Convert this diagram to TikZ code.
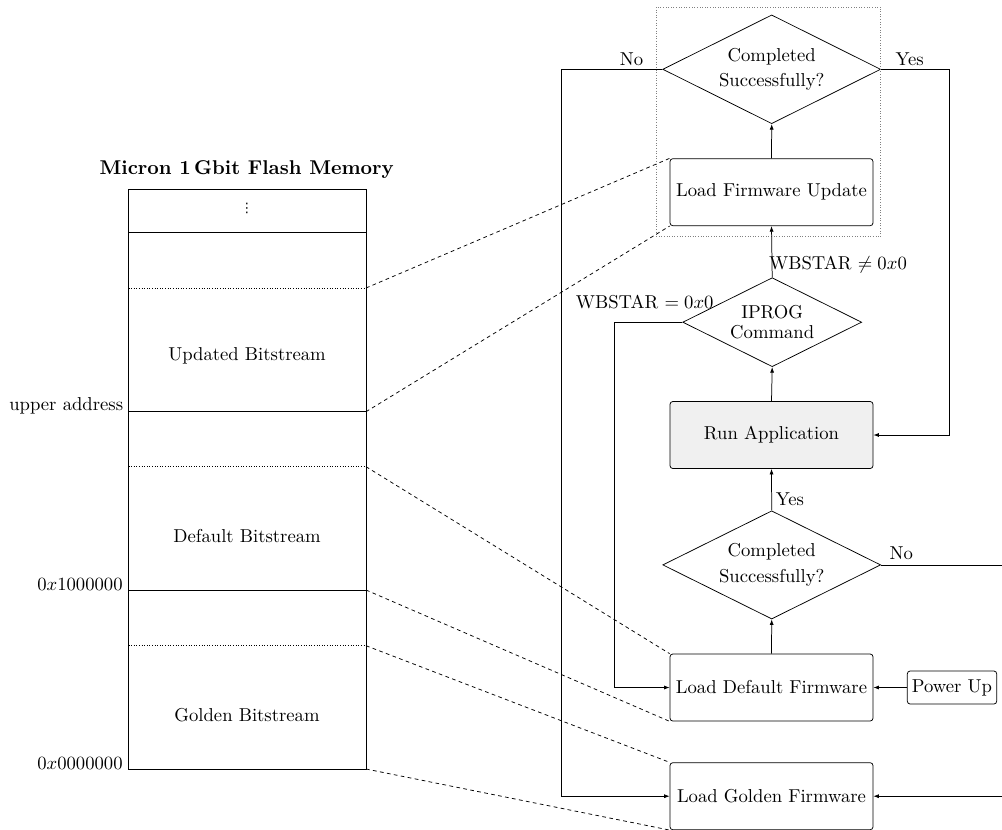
\documentclass[tikz,border=0pt]{standalone}
\usepackage{fontspec}
\newfontfamily\dejavu{DejaVu Sans}
\usetikzlibrary{shapes.geometric,arrows.meta}
\begin{document}
\begin{tikzpicture}[x=0.536pt,y=-0.536pt,
  every node/.style={font=\fontsize{10}{12}\selectfont},
  box/.style={draw,rounded corners=1.5pt,minimum width=108.8pt,minimum height=35.9pt,inner sep=2pt},
  dec/.style={draw,diamond,aspect=2,inner sep=0pt,align=center},
  arr/.style={-{Latex[length=3pt,width=2.2pt]}},
  memdash/.style={dash pattern=on 2pt off 1.8pt},
  memdot/.style={densely dotted},
  lbl/.style={inner sep=1pt},
  addr/.style={anchor=base east,inner sep=0pt}]
\clip (0,0) rectangle (1002,829);

% ---------------- memory map ----------------
\node[font=\bfseries\fontsize{10.7}{12}\selectfont,anchor=base] (title) at (246.7,174.7) {Micron 1\,Gbit Flash Memory};
\draw (128.5,189.5) rectangle (366,769);
\draw (128.5,232.7) -- (366,232.7);
\draw (128.5,411.7) -- (366,411.7);
\draw (128.5,590) -- (366,590);
\draw[memdot] (128.5,288) -- (366,288);
\draw[memdot] (128.5,466.7) -- (366,466.7);
\draw[memdot] (128.5,645.7) -- (366,645.7);
\node[inner sep=0pt,font=\dejavu\fontsize{7}{8}\selectfont] (dots) at (247,208) {⋮};
\node (upd) at (247,356) {Updated Bitstream};
\node (def) at (247,536) {Default Bitstream};
\node (gold) at (247,715) {Golden Bitstream};
\node[addr] (ua) at (123.5,410.5) {upper address};
\node[addr] (a1) at (123,590) {$0x1000000$};
\node[addr] (a0) at (123,769) {$0x0000000$};
\coordinate (m1) at (366,288);
\coordinate (m2) at (366,411.7);
\coordinate (m3) at (366,466.7);
\coordinate (m4) at (366,590);
\coordinate (m5) at (366,645.7);
\coordinate (m6) at (366,769);

% ---------------- flowchart ----------------
\node[dec,minimum width=116.8pt,minimum height=58.3pt] (d1) at (771.7,69.3) {Completed\\[1.7pt]Successfully?};
\node[box] (lfu) at (771.5,192.2) {Load Firmware Update};
\node[dec,minimum width=95.9pt,minimum height=47.7pt] (ip) at (772.2,322.2) {IPROG\\[-1pt]Command};
\node[box,fill=black!6] (ra) at (771.5,435) {Run Application};
\node[dec,minimum width=116.8pt,minimum height=58pt] (d3) at (771.7,564.9) {Completed\\[1.7pt]Successfully?};
\node[box] (ldf) at (771.5,687.5) {Load Default Firmware};
\node[draw,rounded corners=1.5pt,minimum width=47.9pt,minimum height=17.7pt,inner sep=1pt] (pu) at (952,687.5) {Power Up};
\node[box] (lgf) at (771.5,796.2) {Load Golden Firmware};

\draw[densely dotted,gray] (656,7) rectangle (880.7,236.7);

\coordinate (nL) at (561,0);
\coordinate (yR) at (949.3,0);
\coordinate (wL) at (614.3,0);
\coordinate (rR) at (1040,0);

\draw[arr] (lfu.north) -- (d1.south);
\draw[arr] (ip.north) -- (lfu.south);
\draw[arr] (ra.north) -- (ip.south);
\draw[arr] (d3.north) -- (ra.south);
\draw[arr] (ldf.north) -- (d3.south);
\draw[arr] (pu.west) -- (ldf.east);
\draw[arr] (d1.west) -- (d1.west -| nL) |- (lgf.west);
\draw[arr] (d1.east) -- (d1.east -| yR) |- (ra.east);
\draw[arr] (ip.west) -- (ip.west -| wL) |- (ldf.west);
\draw[arr] (d3.east) -- (d3.east -| rR) |- (lgf.east);

\node[lbl] (no1) at (631.5,59.3) {No};
\node[lbl] (yes1) at (909.7,59.3) {Yes};
\node[lbl] (wne) at (838,265) {WBSTAR $\neq 0x0$};
\node[lbl] (weq) at (644.7,302.3) {WBSTAR $= 0x0$};
\node[lbl] (yes2) at (790,499.3) {Yes};
\node[lbl] (no2) at (901.3,553.3) {No};

\draw[memdash] (m1) -- (lfu.north west);
\draw[memdash] (m2) -- (lfu.south west);
\draw[memdash] (m3) -- (ldf.north west);
\draw[memdash] (m4) -- (ldf.south west);
\draw[memdash] (m5) -- (lgf.north west);
\draw[memdash] (m6) -- (lgf.south west);
\end{tikzpicture}
\end{document}
